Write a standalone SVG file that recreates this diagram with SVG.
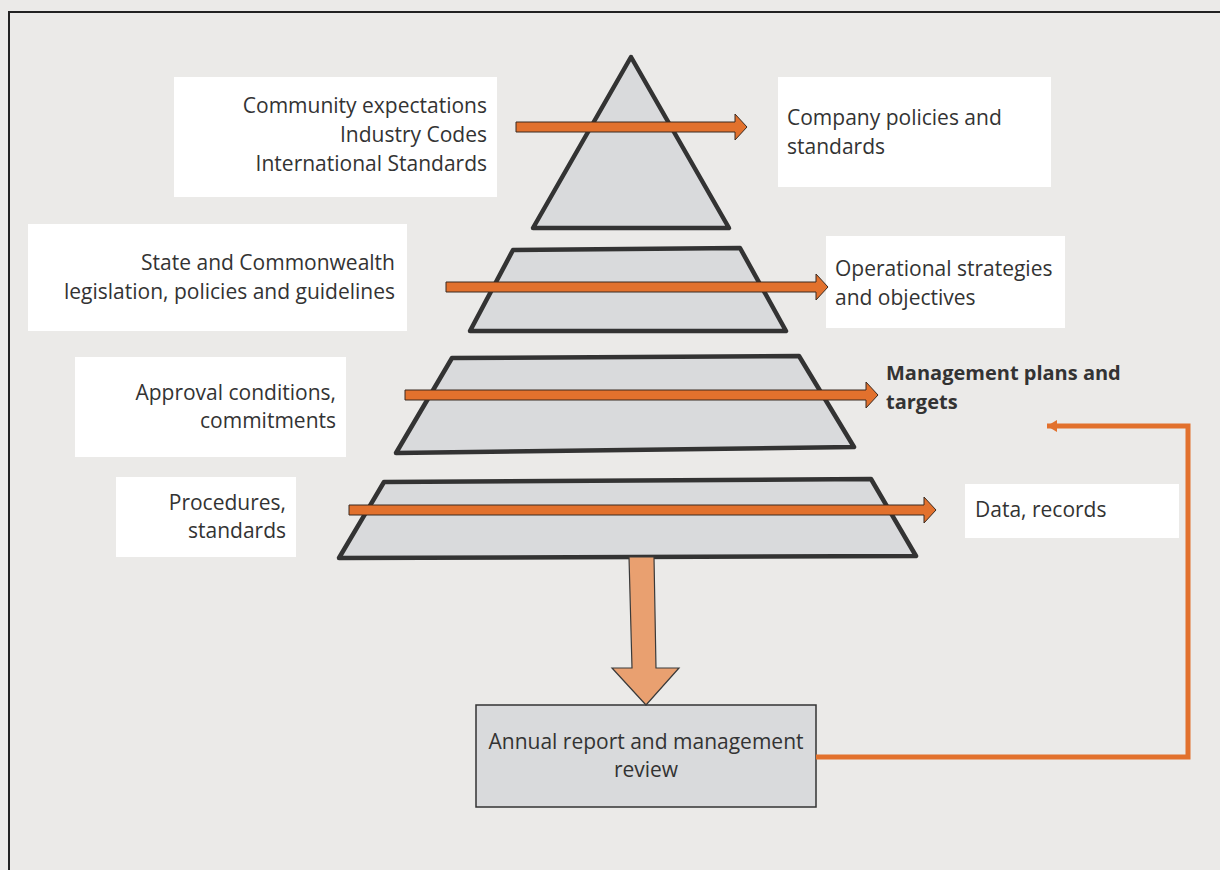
<svg xmlns="http://www.w3.org/2000/svg" width="1220" height="870" viewBox="0 0 1220 870">
<defs>
<style>
.bg{fill:#ebeae8}
.box{fill:#ffffff}
.tier{fill:#d9dadc;stroke:#333333;stroke-width:4.5;stroke-linejoin:round}
.t{font-family:"Open Sans","Liberation Sans",sans-serif;font-size:21px;fill:#333333}
.r{text-anchor:end}
.c{text-anchor:middle}
.b{font-weight:bold;font-size:20px}
.arr{fill:#e2712d;stroke:#3a2a20;stroke-width:1}
.down{fill:#e9a070;stroke:#3a3a3a;stroke-width:1.2}
.fb{fill:none;stroke:#e2712d;stroke-width:5}
</style>
<marker id="fbhead" markerWidth="12" markerHeight="14" refX="10" refY="7" orient="auto" markerUnits="userSpaceOnUse">
<path d="M0,1 L10,7 L0,13 Z" fill="#e2712d"/>
</marker>
</defs>
<rect class="bg" x="0" y="0" width="1220" height="870"/>
<path d="M9,870 V12 H1220" fill="none" stroke="#222" stroke-width="2"/>

<g id="node-community">
<rect class="box" x="174" y="77" width="323" height="120"/>
<text class="t r" x="487" y="113">Community expectations</text>
<text class="t r" x="487" y="142">Industry Codes</text>
<text class="t r" x="487" y="171">International Standards</text>
</g>
<g id="node-tier1">
<polygon class="tier" points="631,57 729,228 533,228"/>
</g>
<g id="node-company">
<rect class="box" x="778" y="77" width="273" height="110"/>
<text class="t" x="787" y="125">Company policies and</text>
<text class="t" x="787" y="154">standards</text>
</g>

<g id="node-state">
<rect class="box" x="28" y="224" width="379" height="107"/>
<text class="t r" x="395" y="270">State and Commonwealth</text>
<text class="t r" x="395" y="299">legislation, policies and guidelines</text>
</g>
<g id="node-tier2">
<polygon class="tier" points="513,250 740,248 786,331 470,331"/>
</g>
<g id="node-operational">
<rect class="box" x="826" y="236" width="239" height="92"/>
<text class="t" x="835" y="276">Operational strategies</text>
<text class="t" x="835" y="305">and objectives</text>
</g>

<g id="node-approval">
<rect class="box" x="75" y="357" width="271" height="100"/>
<text class="t r" x="336" y="400">Approval conditions,</text>
<text class="t r" x="336" y="428">commitments</text>
</g>
<g id="node-tier3">
<polygon class="tier" points="452,358 799,356 854,447 396,453"/>
</g>
<g id="node-management">
<text class="t b" x="886" y="380">Management plans and</text>
<text class="t b" x="886" y="409">targets</text>
</g>

<g id="node-procedures">
<rect class="box" x="116" y="477" width="180" height="80"/>
<text class="t r" x="286" y="510">Procedures,</text>
<text class="t r" x="286" y="538">standards</text>
</g>
<g id="node-tier4">
<polygon class="tier" points="384,482 871,479 916,556 339,558"/>
</g>
<g id="node-data">
<rect class="box" x="965" y="484" width="214" height="54"/>
<text class="t" x="975" y="517">Data, records</text>
</g>

<g id="node-annual">
<rect x="476" y="705" width="340" height="102" fill="#d9dadc" stroke="#333" stroke-width="1.5"/>
<text class="t c" x="646" y="749">Annual report and management</text>
<text class="t c" x="646" y="777">review</text>
</g>

<g id="connectors">
<polygon class="arr" points="516,122 735,122 735,114 747,127 735,140 735,132 516,132"/>
<polygon class="arr" points="446,282 816,282 816,274 828,287 816,300 816,292 446,292"/>
<polygon class="arr" points="405,390 866,390 866,382 878,395 866,408 866,400 405,400"/>
<polygon class="arr" points="349,505 924,505 924,497 936,510 924,523 924,515 349,515"/>
<polygon class="down" points="629,557 654,557 656,668 679,668 646,705 612,668 632,668"/>
<polyline class="fb" points="816,757 1188,757 1188,426 1047,426" marker-end="url(#fbhead)"/>
</g>
</svg>
